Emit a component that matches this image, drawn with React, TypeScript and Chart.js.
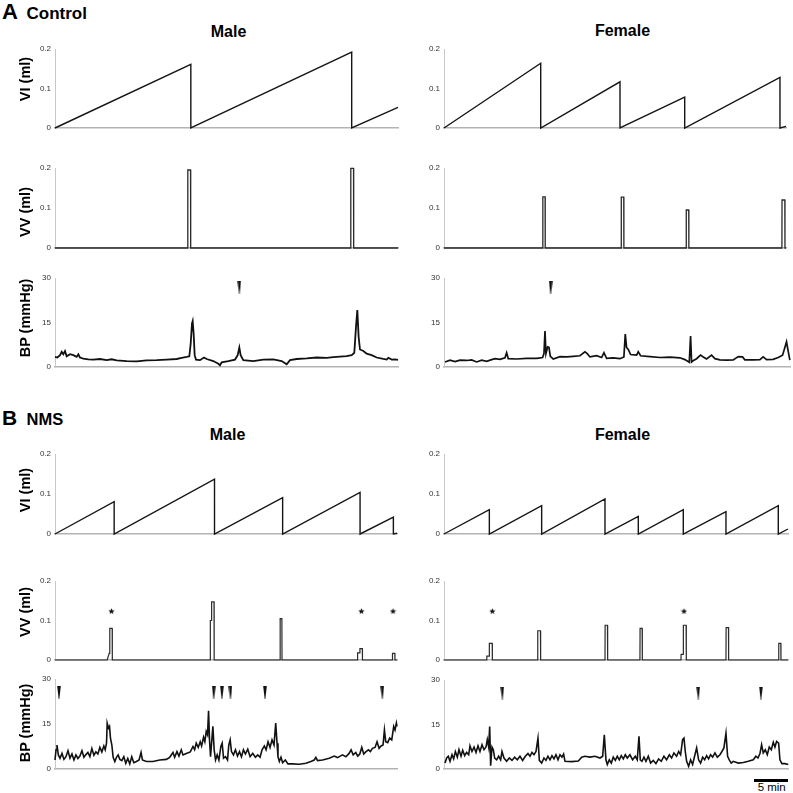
import React, { useEffect, useRef } from "react";
import { Chart, registerables } from "chart.js";
Chart.register(...registerables);

type P = [number, number];

// ---------------- DATA (x = time in min, y = ml or mmHg) ----------------
const volTicks = [0, 0.1, 0.2];
const bpTicks = [0, 15, 30];

// Control
const ctrlMaleVI: P[] = [[0, 0], [19.8, 0.161], [19.8, 0], [43.25, 0.192], [43.25, 0], [50, 0.052]];
const ctrlMaleVV: P[] = [[0, 0], [19.34, 0], [19.36, 0.195], [19.76, 0.195], [19.78, 0], [43.1, 0], [43.12, 0.199], [43.52, 0.199], [43.54, 0], [50, 0]];
const ctrlMaleBP: P[] = [
  [0, 3.4], [0.34, 3.2], [0.73, 4.0], [0.97, 5.1], [1.21, 4.3], [1.46, 5.4], [1.7, 3.6], [2.19, 4.3], [2.67, 4.0], [3.16, 3.4],
  [3.4, 4.3], [3.64, 3.2], [4.13, 2.8], [4.86, 2.6], [5.59, 2.5], [6.56, 2.7], [7.53, 2.3], [8.26, 2.6], [8.99, 2.2], [10.45, 2.0],
  [11.9, 1.9], [13.36, 2.2], [14.82, 2.3], [16.28, 2.5], [17.74, 2.7], [18.46, 3.1], [19.19, 3.4], [19.58, 3.6], [19.78, 7.9], [19.97, 14.7],
  [20.07, 15.5], [20.21, 11.3], [20.36, 4.0], [20.55, 2.5], [21.14, 2.3], [21.72, 3.2], [22.11, 2.7], [23.08, 2.0], [23.81, 1.1], [24.05, 0.6],
  [24.3, 1.6], [25.27, 2.0], [26.24, 2.5], [26.63, 4.0], [26.87, 6.6], [27.06, 4.0], [27.45, 2.3], [28.91, 2.0], [30.37, 2.5], [31.83, 2.6],
  [33.04, 2.0], [33.77, 0.9], [34.26, 2.3], [35.23, 2.7], [36.69, 2.9], [38.14, 3.2], [39.6, 3.1], [40.57, 3.3], [41.54, 3.5], [42.52, 3.7],
  [43.25, 4.0], [43.63, 4.8], [43.88, 13.6], [44.07, 19.2], [44.26, 10.2], [44.46, 5.9], [44.95, 5.4], [45.43, 4.5], [46.16, 4.0], [46.89, 3.2],
  [47.86, 2.7], [48.35, 2.5], [48.59, 3.1], [49.08, 2.5], [49.57, 2.6], [50, 2.4],
];
const ctrlMaleArrows: P[] = [[26.87, 26.9]];

const ctrlFemaleVI: P[] = [[0, 0], [14.14, 0.164], [14.14, 0], [25.73, 0.117], [25.73, 0], [35.19, 0.078], [35.19, 0], [49.12, 0.128], [49.12, 0], [50, 0.004]];
const ctrlFemaleVV: P[] = [[0, 0], [14.43, 0], [14.45, 0.128], [14.78, 0.128], [14.8, 0], [25.9, 0], [25.92, 0.127], [26.28, 0.127], [26.3, 0], [35.4, 0], [35.42, 0.095], [35.78, 0.095], [35.8, 0], [49.4, 0], [49.42, 0.12], [49.83, 0.12], [49.85, 0], [50, 0]];
const ctrlFemaleBP: P[] = [
  [0.15, 1.7], [0.88, 2.3], [1.61, 1.8], [2.34, 2.3], [3.31, 2.2], [4.04, 2.4], [4.78, 1.7], [5.51, 2.3], [6.24, 1.9], [6.97, 2.5],
  [7.46, 2.8], [8.19, 2.6], [8.92, 3.1], [9.16, 4.8], [9.4, 2.8], [10.62, 2.7], [12.09, 2.9], [13.55, 2.9], [14.42, 3.2], [14.62, 4.5],
  [14.77, 12.1], [14.91, 4.5], [15.16, 6.8], [15.35, 6.6], [15.55, 3.6], [15.98, 2.7], [16.96, 3.5], [17.93, 3.4], [18.91, 3.6], [19.88, 3.8],
  [20.61, 5.1], [20.95, 4.5], [21.34, 3.4], [22.32, 3.8], [23.05, 3.2], [23.39, 4.8], [23.78, 2.9], [24.75, 3.1], [25.73, 2.8], [26.31, 3.4],
  [26.51, 11.1], [26.7, 6.6], [26.95, 5.9], [27.29, 4.2], [28.17, 4.0], [28.41, 5.1], [28.75, 3.8], [30.12, 3.5], [31.58, 3.2], [33.04, 3.3],
  [34.5, 3.1], [35.23, 2.5], [35.87, 1.6], [36.06, 10.4], [36.21, 1.7], [36.55, 2.3], [36.94, 2.8], [37.52, 4.0], [37.91, 3.4], [38.4, 2.7],
  [39.13, 4.0], [39.62, 2.8], [40.35, 2.4], [41.32, 2.3], [42.3, 2.4], [43.03, 3.5], [43.66, 3.4], [44.0, 2.4], [45.22, 2.4], [46.2, 2.5],
  [46.68, 3.4], [47.17, 2.5], [48.14, 2.6], [48.88, 3.2], [49.51, 4.0], [49.85, 6.6], [50.09, 8.5], [50.29, 5.9], [50.58, 2.3],
];
const ctrlFemaleArrows: P[] = [[15.6, 26.7]];

// NMS
const nmsMaleVI: P[] = [[0, 0], [8.65, 0.081], [8.65, 0], [23.32, 0.137], [23.32, 0], [33.28, 0.091], [33.28, 0], [44.6, 0.104], [44.6, 0], [49.47, 0.042], [49.47, 0], [50, 0.002]];
const nmsMaleVV: P[] = [
  [0, 0], [7.63, 0], [7.92, 0.017], [8.0, 0.02], [8.02, 0.08], [8.36, 0.08], [8.38, 0],
  [22.69, 0], [22.71, 0.1], [22.88, 0.1], [22.9, 0.147], [23.25, 0.147], [23.27, 0],
  [32.9, 0], [32.92, 0.105], [33.17, 0.105], [33.19, 0],
  [44.22, 0], [44.24, 0.018], [44.56, 0.018], [44.58, 0.029], [44.93, 0.029], [44.95, 0],
  [49.32, 0], [49.34, 0.017], [49.68, 0.017], [49.7, 0], [50, 0],
];
const nmsMaleStars: P[] = [[8.26, 0.1235], [44.8, 0.1235], [49.42, 0.1235]];
const nmsMaleBP: P[] = [
  [0, 3.0], [0.15, 6.4], [0.29, 8.0], [0.49, 4.7], [0.73, 3.6], [1.02, 5.2], [1.31, 3.2], [1.6, 4.1], [1.9, 6.1], [2.19, 3.6],
  [2.48, 5.0], [2.77, 3.0], [3.06, 4.7], [3.35, 3.5], [3.64, 4.3], [3.94, 6.1], [4.23, 3.9], [4.52, 4.8], [4.81, 5.5], [5.1, 4.1],
  [5.39, 6.8], [5.69, 4.6], [5.98, 5.7], [6.27, 5.0], [6.56, 7.2], [6.85, 5.7], [7.14, 7.7], [7.34, 6.4], [7.53, 8.6], [7.63, 15.3],
  [7.82, 13.6], [7.97, 14.2], [8.11, 10.3], [8.31, 8.0], [8.5, 3.9], [8.75, 2.5], [8.99, 3.9], [9.23, 4.7], [9.48, 3.2], [9.77, 2.8],
  [10.06, 4.1], [10.35, 1.9], [10.64, 3.5], [10.93, 1.7], [11.22, 4.1], [11.52, 2.1], [11.9, 2.5], [12.29, 3.0], [12.58, 5.5], [12.78, 3.0],
  [13.36, 2.5], [14.33, 2.5], [15.31, 3.0], [16.28, 3.2], [16.76, 3.9], [17.25, 5.5], [17.49, 3.9], [17.83, 5.8], [18.12, 4.3], [18.46, 6.4],
  [18.71, 4.7], [19.19, 5.2], [19.78, 5.7], [20.17, 7.5], [20.41, 6.4], [20.65, 8.6], [20.94, 7.2], [21.23, 9.1], [21.43, 7.7], [21.72, 10.6],
  [21.91, 9.1], [22.11, 12.5], [22.3, 11.4], [22.45, 19.4], [22.59, 9.7], [22.74, 4.1], [22.93, 9.7], [23.08, 14.2], [23.27, 6.4], [23.47, 3.0],
  [23.71, 4.7], [23.96, 3.0], [24.25, 7.5], [24.44, 8.6], [24.64, 3.6], [24.93, 4.1], [25.22, 3.0], [25.41, 8.0], [25.61, 9.7], [25.8, 5.8],
  [26.09, 4.7], [26.38, 6.4], [26.68, 4.3], [26.97, 5.8], [27.26, 4.1], [27.55, 6.4], [27.84, 5.0], [28.18, 6.6], [28.52, 4.1], [28.91, 5.2],
  [29.3, 3.9], [29.64, 4.7], [29.98, 3.9], [30.27, 6.4], [30.61, 7.7], [30.86, 6.4], [31.15, 9.1], [31.44, 7.2], [31.73, 9.7], [32.02, 8.0],
  [32.27, 15.3], [32.46, 8.6], [32.6, 4.1], [32.8, 2.5], [33.04, 3.9], [33.28, 2.1], [33.67, 3.0], [34.06, 1.7], [34.74, 1.7], [35.71, 1.6],
  [36.69, 1.9], [37.41, 2.5], [37.9, 3.0], [38.14, 3.9], [38.38, 2.8], [39.11, 3.0], [40.09, 3.6], [40.82, 4.3], [41.3, 3.8], [42.03, 4.7],
  [42.52, 4.1], [43.0, 5.2], [43.29, 6.4], [43.59, 4.7], [43.97, 5.5], [44.26, 4.3], [44.56, 5.0], [44.85, 7.2], [45.14, 5.0], [45.43, 5.7],
  [45.82, 6.4], [46.11, 5.8], [46.4, 6.9], [46.79, 7.2], [47.08, 9.1], [47.38, 6.9], [47.67, 7.7], [47.96, 8.0], [48.16, 13.0], [48.35, 9.1],
  [48.64, 8.8], [48.93, 10.3], [49.23, 9.7], [49.52, 14.2], [49.71, 13.0], [49.91, 15.3], [50, 14.2],
];
const nmsMaleArrows: P[] = [[0.58, 25.4], [23.2, 25.4], [24.4, 25.4], [25.65, 25.4], [30.7, 25.4], [47.86, 25.4]];

const nmsFemaleVI: P[] = [[0, 0], [6.63, 0.061], [6.63, 0], [14.28, 0.071], [14.28, 0], [23.54, 0.0875], [23.54, 0], [28.41, 0.044], [28.41, 0], [34.99, 0.061], [34.99, 0], [41.23, 0.056], [41.23, 0], [48.88, 0.071], [48.88, 0], [50.3, 0.0125]];
const nmsFemaleVV: P[] = [
  [0, 0], [6.24, 0], [6.26, 0.01], [6.6, 0.01], [6.63, 0.042], [7.05, 0.042], [7.07, 0],
  [13.69, 0], [13.71, 0.074], [14.1, 0.074], [14.13, 0],
  [23.54, 0], [23.56, 0.088], [23.9, 0.088], [23.93, 0],
  [28.65, 0], [28.67, 0.08], [28.97, 0.08], [29.0, 0],
  [34.65, 0], [34.67, 0.014], [34.97, 0.014], [35.0, 0.088], [35.4, 0.088], [35.43, 0],
  [41.23, 0], [41.25, 0.082], [41.6, 0.082], [41.62, 0],
  [48.93, 0], [48.95, 0.042], [49.25, 0.042], [49.27, 0], [50.3, 0],
];
const nmsFemaleStars: P[] = [[7.07, 0.1235], [35.09, 0.1235]];
const nmsFemaleBP: P[] = [
  [0.15, 2.0], [0.39, 3.7], [0.63, 4.3], [0.88, 2.6], [1.17, 4.8], [1.41, 3.4], [1.66, 5.9], [1.95, 4.0], [2.19, 6.5], [2.49, 4.3],
  [2.73, 6.3], [3.02, 4.5], [3.31, 5.6], [3.61, 4.8], [3.8, 7.8], [4.09, 5.9], [4.39, 7.4], [4.68, 5.6], [4.97, 7.8], [5.26, 5.9],
  [5.56, 8.2], [5.85, 6.5], [6.14, 7.4], [6.33, 9.9], [6.53, 7.4], [6.68, 14.3], [6.82, 1.1], [7.02, 7.4], [7.21, 6.5], [7.41, 3.7],
  [7.7, 3.1], [7.99, 4.3], [8.28, 3.1], [8.48, 5.9], [8.77, 3.7], [9.16, 2.6], [9.55, 3.7], [9.94, 2.9], [10.33, 4.0], [10.72, 3.1],
  [11.11, 4.3], [11.5, 2.9], [11.89, 4.3], [12.28, 5.2], [12.57, 4.3], [12.86, 5.6], [13.16, 4.8], [13.45, 5.9], [13.74, 10.4], [13.94, 2.9],
  [14.28, 2.0], [14.62, 3.7], [14.91, 2.9], [15.2, 4.3], [15.5, 3.1], [15.79, 4.5], [16.08, 3.4], [16.37, 4.8], [16.67, 3.1], [16.96, 4.8],
  [17.25, 4.0], [17.49, 5.0], [17.69, 2.6], [18.66, 2.5], [19.64, 2.7], [20.13, 4.0], [20.61, 4.3], [21.34, 4.0], [22.08, 4.3], [22.81, 3.7],
  [23.2, 4.3], [23.44, 11.5], [23.68, 3.1], [23.88, 1.5], [24.17, 3.1], [24.46, 2.0], [24.75, 4.0], [25.05, 2.9], [25.34, 4.3], [25.63, 3.1],
  [25.92, 4.5], [26.22, 3.4], [26.51, 4.8], [26.8, 3.7], [27.19, 4.8], [27.58, 3.1], [27.97, 4.3], [28.26, 3.1], [28.51, 11.0], [28.7, 3.1],
  [28.95, 2.6], [29.24, 4.0], [29.53, 2.6], [29.87, 4.3], [30.21, 2.0], [30.6, 2.9], [30.99, 1.8], [31.38, 3.4], [31.77, 2.6], [32.16, 4.3],
  [32.55, 3.1], [32.94, 4.8], [33.28, 3.7], [33.62, 5.4], [34.01, 4.3], [34.31, 5.9], [34.6, 4.8], [34.89, 9.9], [35.09, 10.4], [35.28, 5.9],
  [35.48, 2.6], [35.77, 0.9], [36.06, 3.1], [36.35, 1.5], [36.64, 4.3], [36.94, 7.1], [37.23, 3.1], [37.52, 2.0], [37.82, 4.0], [38.11, 3.1],
  [38.4, 4.5], [38.69, 3.4], [38.98, 4.8], [39.28, 4.0], [39.62, 5.4], [39.96, 4.0], [40.35, 4.8], [40.64, 5.9], [40.93, 7.1], [41.23, 12.1],
  [41.47, 4.3], [41.71, 3.1], [42.0, 2.0], [42.3, 2.6], [43.03, 2.0], [43.76, 2.2], [44.49, 2.6], [45.22, 3.1], [45.61, 4.3], [45.91, 3.7],
  [46.2, 5.2], [46.44, 8.2], [46.68, 5.4], [46.98, 6.5], [47.27, 4.8], [47.56, 7.4], [47.86, 6.5], [48.15, 9.0], [48.39, 7.4], [48.63, 9.3],
  [48.93, 8.7], [49.12, 3.1], [49.41, 1.8], [49.85, 1.8], [50.34, 1.5],
];
const nmsFemaleArrows: P[] = [[8.53, 25.6], [37.18, 25.6], [46.34, 25.6]];

// ---------------- LABELS ----------------
const groupLetters = ["A", "B"];
const groupNames = ["Control", "NMS"];
const sexTitles = ["Male", "Female"];
const yTitles = ["VI (ml)", "VV (ml)", "BP (mmHg)"];
const scaleBarLabel = "5 min";

const FONT = "'Liberation Sans', Arial, Helvetica, sans-serif";

type Cfg = {
  series: P[];
  marks?: P[];
  markKind?: "arrow" | "star";
  left: number; right: number; top: number; bottom: number;
  xMax: number; yMax: number; ticks: number[];
  lw: number; color: string;
};

function makeArrow(): HTMLCanvasElement {
  const c = document.createElement("canvas");
  c.width = 4; c.height = 13;
  const g = c.getContext("2d")!;
  g.fillStyle = "#111";
  g.beginPath();
  g.moveTo(0.2, 0); g.lineTo(3.8, 0); g.lineTo(2.3, 13); g.lineTo(1.7, 13); g.closePath();
  g.fill();
  return c;
}
function makeStar(): HTMLCanvasElement {
  const c = document.createElement("canvas");
  c.width = 7; c.height = 7;
  const g = c.getContext("2d")!;
  g.fillStyle = "#111";
  g.beginPath();
  for (let i = 0; i < 10; i++) {
    const r = i % 2 === 0 ? 3.3 : 1.4;
    const a = -Math.PI / 2 + (i * Math.PI) / 5;
    const px = 3.5 + r * Math.cos(a), py = 3.7 + r * Math.sin(a);
    if (i === 0) g.moveTo(px, py); else g.lineTo(px, py);
  }
  g.closePath(); g.fill();
  return c;
}

const PAD_L = 30, PAD_R = 6, PAD_V = 9;

function Panel({ cfg }: { cfg: Cfg }) {
  const ref = useRef<HTMLCanvasElement>(null);
  const w = cfg.right - cfg.left + PAD_L + PAD_R;
  const h = cfg.bottom - cfg.top + PAD_V * 2;
  useEffect(() => {
    if (!ref.current) return;
    const datasets: any[] = [{
      data: cfg.series.map(([x, y]) => ({ x, y })),
      borderColor: cfg.color, borderWidth: cfg.lw, pointRadius: 0, tension: 0, fill: false, clip: false,
      borderJoinStyle: "miter",
    }];
    if (cfg.marks) {
      datasets.push({
        data: cfg.marks.map(([x, y]) => ({ x, y })),
        showLine: false, pointStyle: cfg.markKind === "arrow" ? makeArrow() : makeStar(),
        pointRadius: 4, clip: false,
      });
    }
    const chart = new Chart(ref.current, {
      type: "line",
      data: { datasets },
      options: {
        animation: false, responsive: false, maintainAspectRatio: false, events: [],
        layout: { padding: { left: 0, right: PAD_R, top: PAD_V, bottom: PAD_V } },
        plugins: { legend: { display: false }, tooltip: { enabled: false } },
        scales: {
          x: {
            type: "linear", min: 0, max: cfg.xMax,
            grid: { display: false, drawTicks: false },
            ticks: { display: false },
            border: { display: true, color: "#b3b3b3", width: 1.5 },
            afterFit: (s: any) => { s.height = 0; },
          },
          y: {
            type: "linear", min: 0, max: cfg.yMax,
            grid: { display: false, drawTicks: false },
            border: { display: true, color: "#c8c8c8", width: 1 },
            ticks: { font: { size: 8, family: FONT }, color: "#333", padding: 4, callback: (v: any) => String(v) },
            afterBuildTicks: (s: any) => { s.ticks = cfg.ticks.map((v) => ({ value: v })); },
            afterFit: (s: any) => { s.width = PAD_L; },
          },
        },
      } as any,
    });
    return () => chart.destroy();
  }, []);
  return (
    <canvas ref={ref} width={w} height={h}
      style={{ position: "absolute", left: cfg.left - PAD_L, top: cfg.top - PAD_V, width: w, height: h }} />
  );
}

const VOL = { yMax: 0.2, ticks: volTicks };
const BPS = { yMax: 30, ticks: bpTicks };

const panels: Cfg[] = [
  { series: ctrlMaleVI, left: 55, right: 398, top: 49, bottom: 128, xMax: 50, ...VOL, lw: 1.4, color: "#151515" },
  { series: ctrlMaleVV, left: 55, right: 398, top: 168, bottom: 248, xMax: 50, ...VOL, lw: 1.3, color: "#2a2a2a" },
  { series: ctrlMaleBP, marks: ctrlMaleArrows, markKind: "arrow", left: 55, right: 398, top: 278, bottom: 367, xMax: 50, ...BPS, lw: 1.8, color: "#111" },
  { series: ctrlFemaleVI, left: 444, right: 786, top: 49, bottom: 128, xMax: 50, ...VOL, lw: 1.4, color: "#151515" },
  { series: ctrlFemaleVV, left: 444, right: 786, top: 168, bottom: 248, xMax: 50, ...VOL, lw: 1.3, color: "#2a2a2a" },
  { series: ctrlFemaleBP, marks: ctrlFemaleArrows, markKind: "arrow", left: 444, right: 790, top: 278, bottom: 367, xMax: 50.6, ...BPS, lw: 1.7, color: "#111" },
  { series: nmsMaleVI, left: 55, right: 397, top: 454, bottom: 534, xMax: 50, ...VOL, lw: 1.4, color: "#151515" },
  { series: nmsMaleVV, marks: nmsMaleStars, markKind: "star", left: 55, right: 397, top: 581, bottom: 660, xMax: 50, ...VOL, lw: 1.2, color: "#2a2a2a" },
  { series: nmsMaleBP, marks: nmsMaleArrows, markKind: "arrow", left: 55, right: 397, top: 679, bottom: 769, xMax: 50, ...BPS, lw: 1.6, color: "#111" },
  { series: nmsFemaleVI, left: 444, right: 788, top: 454, bottom: 534, xMax: 50.3, ...VOL, lw: 1.4, color: "#151515" },
  { series: nmsFemaleVV, marks: nmsFemaleStars, markKind: "star", left: 444, right: 788, top: 581, bottom: 660, xMax: 50.3, ...VOL, lw: 1.2, color: "#2a2a2a" },
  { series: nmsFemaleBP, marks: nmsFemaleArrows, markKind: "arrow", left: 444, right: 788, top: 680, bottom: 769, xMax: 50.3, ...BPS, lw: 1.6, color: "#111" },
];

const txt = (extra: React.CSSProperties): React.CSSProperties => ({
  position: "absolute", fontFamily: FONT, lineHeight: 1, whiteSpace: "nowrap", color: "#000", ...extra,
});

const yTitleCenters = [
  [79, 212, 317.5],
  [490, 612, 723],
];

export default function App() {
  return (
    <div style={{ position: "absolute", left: 0, top: 0, width: 793, height: 793, background: "#fff", overflow: "hidden" }}>
      {panels.map((p, i) => <Panel key={i} cfg={p} />)}

      {/* group headers */}
      <div style={txt({ left: 2, top: 1.4, fontSize: 22, fontWeight: 700 })}>{groupLetters[0]}</div>
      <div style={txt({ left: 26.5, top: 4.6, fontSize: 17, fontWeight: 700 })}>{groupNames[0]}</div>
      <div style={txt({ left: 2, top: 407.2, fontSize: 21, fontWeight: 700 })}>{groupLetters[1]}</div>
      <div style={txt({ left: 26.5, top: 411.2, fontSize: 16.5, fontWeight: 700 })}>{groupNames[1]}</div>

      {/* column titles */}
      <div style={txt({ left: 228.5, top: 24, fontSize: 16, fontWeight: 700, transform: "translateX(-50%)" })}>{sexTitles[0]}</div>
      <div style={txt({ left: 622.5, top: 23, fontSize: 16, fontWeight: 700, transform: "translateX(-50%)" })}>{sexTitles[1]}</div>
      <div style={txt({ left: 227.5, top: 427, fontSize: 16, fontWeight: 700, transform: "translateX(-50%)" })}>{sexTitles[0]}</div>
      <div style={txt({ left: 622.5, top: 426.5, fontSize: 16, fontWeight: 700, transform: "translateX(-50%)" })}>{sexTitles[1]}</div>

      {/* y axis titles */}
      {yTitleCenters.map((row, g) =>
        row.map((cy, r) => (
          <div key={`${g}-${r}`} style={txt({ left: 25, top: cy, fontSize: 14.5, fontWeight: 700, transform: "translate(-50%, -50%) rotate(-90deg)" })}>
            {yTitles[r]}
          </div>
        ))
      )}

      {/* scale bar */}
      <div style={{ position: "absolute", left: 754, top: 779, width: 34, height: 2.5, background: "#000" }} />
      <div style={txt({ left: 771.7, top: 782, fontSize: 11.5, transform: "translateX(-50%)" })}>{scaleBarLabel}</div>
    </div>
  );
}
